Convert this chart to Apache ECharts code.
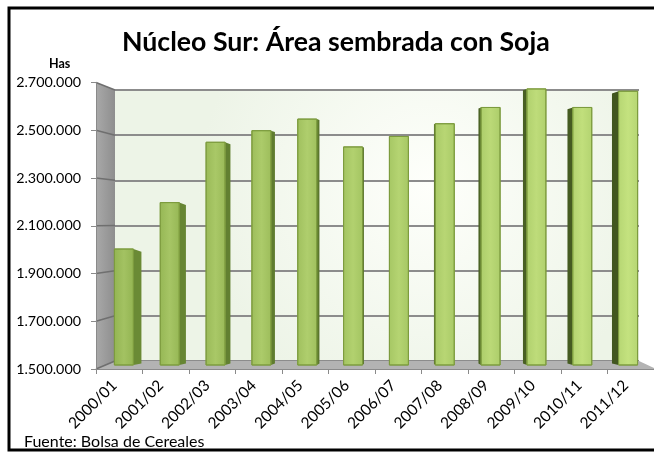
<!DOCTYPE html>
<html><head><meta charset="utf-8">
<script src="https://cdn.jsdelivr.net/npm/echarts@6/dist/echarts.min.js"></script>
<style>html,body{margin:0;padding:0;background:#fff}#c{width:654px;height:455px}</style>
</head><body><div id="c"></div>
<script>
const categories = ['2000/01','2001/02','2002/03','2003/04','2004/05','2005/06','2006/07','2007/08','2008/09','2009/10','2010/11','2011/12'];
const values = [2000000, 2200000, 2460000, 2510000, 2560000, 2440000, 2485000, 2540000, 2610000, 2690000, 2610000, 2680000];
const yMin = 1500000, yMax = 2700000, yStep = 200000;
const titleText = 'Núcleo Sur: Área sembrada con Soja';
const unitText = 'Has';
const sourceText = 'Fuente: Bolsa de Cereales';

const FONT = 'Lato, "Open Sans", sans-serif';
const fmt = v => String(v).replace(/\B(?=(\d{3})+(?!\d))/g, '.');
const chart = echarts.init(document.getElementById('c'), null, {renderer: 'canvas'});

function mix(a, b, t) {
  const pa = a.match(/\w\w/g).map(h => parseInt(h, 16));
  const pb = b.match(/\w\w/g).map(h => parseInt(h, 16));
  return 'rgb(' + pa.map((x, k) => Math.round(x + (pb[k] - x) * t)).join(',') + ')';
}

function renderBar(params, api) {
  const i = api.value(0), v = api.value(1);
  const top = api.coord([i, v]);
  const base = api.coord([i, yMin]);
  const cx = top[0], hw = 9.5;
  const s = (400 - cx) * 0.029;
  const t = Math.max(0, Math.min(1, (cx - 120) / 510));
  const c1 = mix('93b452', 'b6d673', t), c2 = mix('a3c262', 'c4e27f', t);
  const side = mix('6a8a35', '41561f', t);
  const xe = s > 0 ? cx + hw : cx - hw;
  return {
    type: 'group',
    children: [
      {type: 'polygon', shape: {points: [[xe, top[1]], [xe + s, top[1] + Math.abs(s) * 0.35], [xe + s, base[1] - 1.5], [xe, base[1]]]},
       style: {fill: side}},
      {type: 'rect', shape: {x: cx - hw, y: top[1], width: 2 * hw, height: base[1] - top[1]},
       style: {fill: {type: 'linear', x: 0, y: 0, x2: 1, y2: 0, colorStops: [{offset: 0, color: c1}, {offset: 0.5, color: c2}, {offset: 1, color: c1}]},
               stroke: '#7d9c3e', lineWidth: 1}}
    ]
  };
}

const option = {
  animation: false,
  textStyle: {fontFamily: FONT},
  title: [
    {text: titleText, left: 117, top: 24, textStyle: {fontFamily: FONT, fontSize: 26.7, fontWeight: 'bold', color: '#000'}},
    {text: unitText, left: 44, top: 52, textStyle: {fontFamily: FONT, fontSize: 12.5, fontWeight: 'bold', color: '#000'}},
    {text: sourceText, left: 19, top: 429, textStyle: {fontFamily: FONT, fontSize: 16, fontWeight: 'normal', color: '#000'}}
  ],
  grid: [
    {left: 96, top: 82.5, width: 560, height: 286.5, z: 3},
    {left: 115, top: 90, width: 524, height: 271, show: true, borderWidth: 0, z: 0,
     backgroundColor: {type: 'radial', x: 0.6, y: 0.35, r: 0.85, colorStops: [{offset: 0, color: '#fefffb'}, {offset: 1, color: '#edf4e7'}]}},
    {left: 101, top: 86.6, width: 550, height: 278.4}
  ],
  xAxis: [
    {type: 'category', gridIndex: 0, data: categories, z: 3,
     axisLine: {lineStyle: {color: '#8a8a8a', width: 1}},
     axisTick: {show: true, length: 5, lineStyle: {color: '#8a8a8a'}},
     axisLabel: {rotate: 45, interval: 0, margin: 9, padding: [0, 7, 0, 0], color: '#000', fontSize: 15.5, fontFamily: FONT}},
    {type: 'category', gridIndex: 1, data: categories, show: false},
    {type: 'category', gridIndex: 2, data: categories, show: false}
  ],
  yAxis: [
    {type: 'value', gridIndex: 0, min: yMin, max: yMax, interval: yStep, z: 3,
     axisLine: {show: true, lineStyle: {color: '#8a8a8a'}},
     axisTick: {show: true, length: 5, lineStyle: {color: '#8a8a8a'}},
     splitLine: {show: false},
     axisLabel: {formatter: fmt, color: '#000', fontSize: 14.3, fontFamily: FONT, margin: 15}},
    {type: 'value', gridIndex: 1, min: yMin, max: yMax, interval: yStep, z: 0,
     axisLine: {show: false}, axisTick: {show: false}, axisLabel: {show: false},
     splitLine: {show: true, lineStyle: {color: '#8c8c8c', width: 2}}},
    {type: 'value', gridIndex: 2, min: yMin, max: yMax, show: false, splitLine: {show: false}}
  ],
  series: [
    {type: 'custom', xAxisIndex: 2, yAxisIndex: 2, z: 5, renderItem: renderBar,
     data: values.map((v, i) => [i, v]), encode: {x: 0, y: 1}}
  ]
};
chart.setOption(option);

// 3D walls / floor / border decoration derived from axes
const fTop = chart.convertToPixel({yAxisIndex: 0}, yMax), fBot = chart.convertToPixel({yAxisIndex: 0}, yMin);
const bTop = chart.convertToPixel({yAxisIndex: 1}, yMax), bBot = chart.convertToPixel({yAxisIndex: 1}, yMin);
const fx = 96, bx = 115, bRight = 639, fRight = 656;
const g = [];
g.push({type: 'polygon', z: 1, shape: {points: [[fx, fTop], [bx, bTop], [bx, bBot], [fx, fBot]]},
        style: {fill: {type: 'linear', x: 0, y: 0, x2: 1, y2: 0, colorStops: [{offset: 0, color: '#a9a9a9'}, {offset: 1, color: '#8e8e8e'}]}}});
g.push({type: 'polygon', z: 1, shape: {points: [[fx, fBot], [bx, bBot], [bRight, bBot], [fRight, fBot]]},
        style: {fill: '#b3b3b3'}});
for (let v = yMin; v <= yMax; v += yStep) {
  const p1 = chart.convertToPixel({yAxisIndex: 0}, v), p2 = chart.convertToPixel({yAxisIndex: 1}, v);
  g.push({type: 'line', z: 2, shape: {x1: fx, y1: p1, x2: bx, y2: p2}, style: {stroke: '#6f6f6f', lineWidth: 1.5}});
}
g.push({type: 'rect', z: 10, shape: {x: 9, y: 8, width: 700, height: 442}, style: {fill: 'none', stroke: '#000', lineWidth: 3}});
chart.setOption({graphic: g});
</script>
</body></html>
